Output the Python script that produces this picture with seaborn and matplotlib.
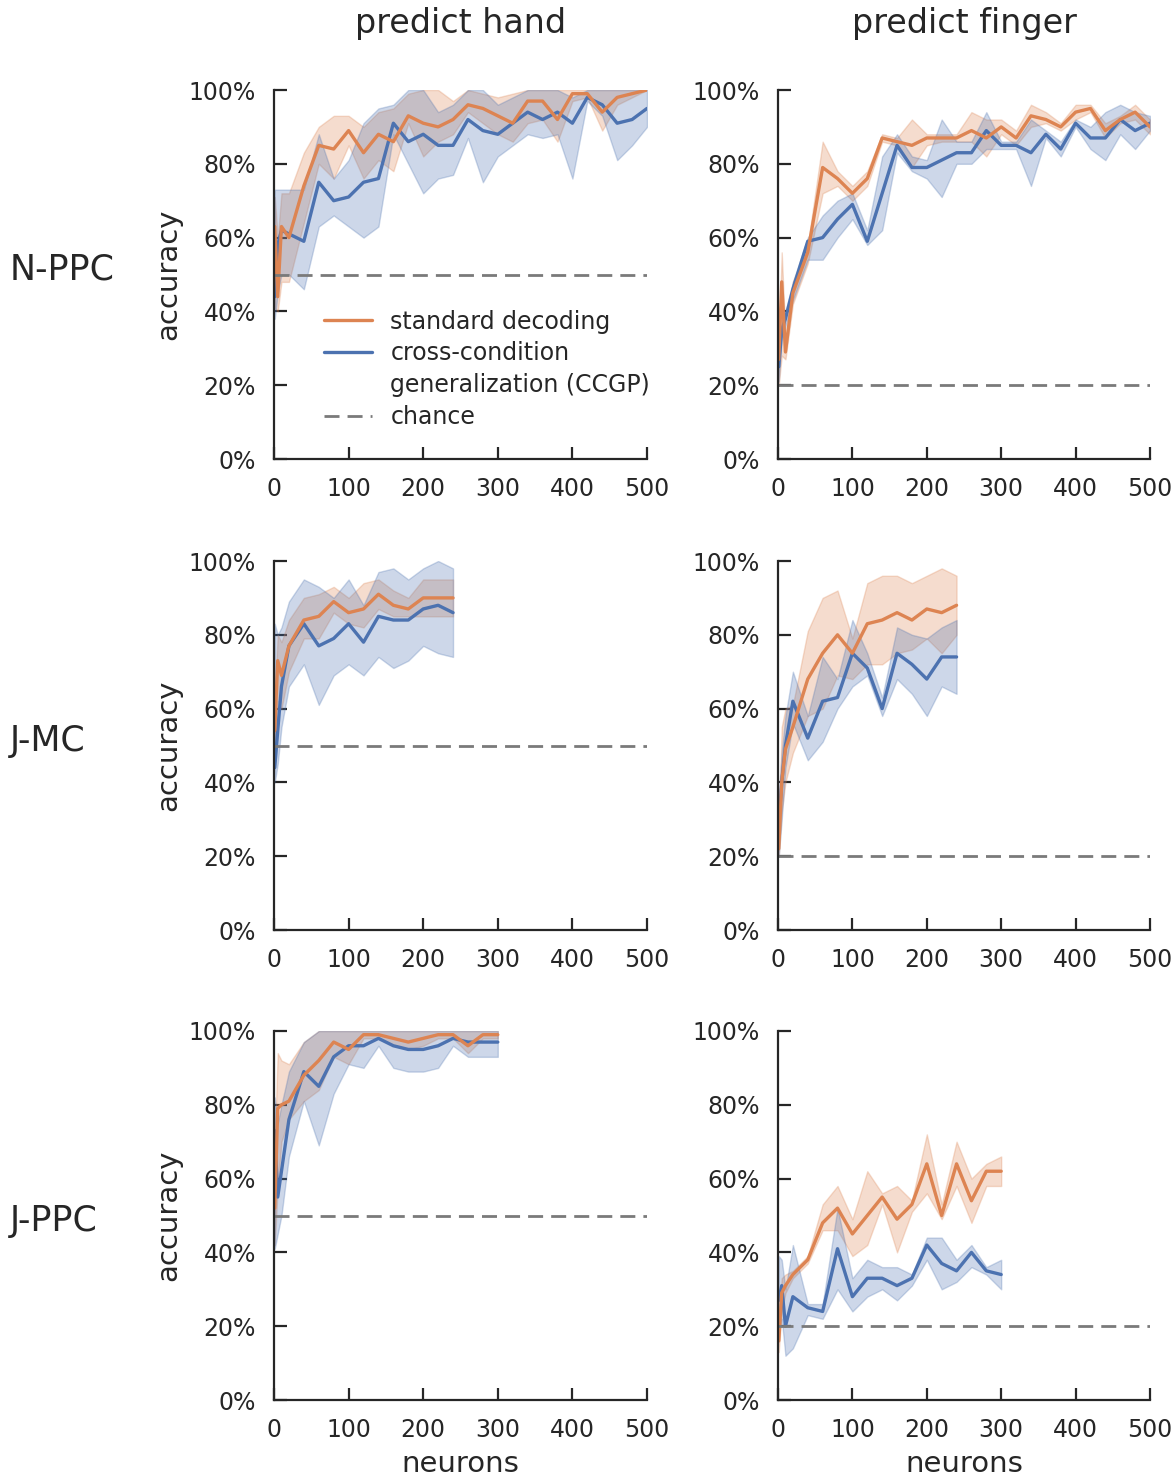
import numpy as np
import pandas as pd
import matplotlib
matplotlib.use("Agg")
import matplotlib.pyplot as plt
from matplotlib.lines import Line2D
from matplotlib.ticker import PercentFormatter
import seaborn as sns

# ---------------- data (accuracy in %) ----------------
N_NPPC = [1, 5, 10, 20, 40, 60, 80, 100, 120, 140, 160, 180, 200, 220, 240, 260, 280, 300,
          320, 340, 360, 380, 400, 420, 440, 460, 480, 500]
N_JMC = [1, 5, 10, 20, 40, 60, 80, 100, 120, 140, 160, 180, 200, 220, 240]
N_JPPC = [1, 5, 10, 20, 40, 60, 80, 100, 120, 140, 160, 180, 200, 220, 240, 260, 280, 300]

# N-PPC, predict hand
nppc_hand_std = [63, 44, 63, 60, 74, 85, 84, 89, 83, 88, 86, 93, 91, 90, 92, 96, 95, 93, 91, 97, 97, 92, 99, 99, 94, 98, 99, 100]
nppc_hand_std_lo = [41, 40, 48, 48, 64, 80, 76, 85, 76, 81, 78, 91, 82, 86, 88, 94, 91, 88, 86, 91, 92, 86, 97, 98, 89, 96, 98, 100]
nppc_hand_std_hi = [71, 60, 72, 72, 83, 90, 93, 93, 90, 94, 95, 99, 100, 100, 97, 100, 99, 98, 99, 100, 100, 100, 100, 100, 100, 100, 100, 100]
nppc_hand_ccgp = [44, 58, 62, 61, 59, 75, 70, 71, 75, 76, 91, 86, 88, 85, 85, 92, 89, 88, 91, 94, 92, 94, 91, 98, 96, 91, 92, 95]
nppc_hand_ccgp_lo = [38, 45, 50, 50, 46, 63, 66, 63, 60, 63, 88, 80, 72, 76, 77, 87, 75, 82, 85, 88, 87, 88, 76, 97, 93, 81, 85, 90]
nppc_hand_ccgp_hi = [73, 73, 73, 73, 73, 88, 76, 81, 91, 95, 96, 100, 100, 94, 96, 100, 100, 96, 98, 100, 100, 100, 98, 100, 100, 100, 100, 100]

# N-PPC, predict finger
nppc_finger_std = [27, 48, 29, 45, 56, 79, 76, 72, 76, 87, 86, 85, 87, 87, 87, 89, 87, 90, 87, 93, 92, 90, 94, 95, 89, 92, 94, 90]
nppc_finger_std_lo = [20, 28, 27, 42, 53, 72, 74, 70, 74, 86, 85, 79, 85, 86, 86, 86, 82, 88, 85, 90, 91, 89, 92, 94, 87, 91, 92, 88]
nppc_finger_std_hi = [30, 56, 33, 48, 58, 86, 78, 74, 78, 88, 87, 92, 88, 88, 88, 94, 92, 92, 89, 96, 94, 91, 96, 96, 91, 93, 96, 92]
nppc_finger_ccgp = [25, 35, 38, 46, 59, 60, 65, 69, 59, 72, 85, 79, 79, 81, 83, 83, 89, 85, 85, 83, 88, 84, 91, 87, 87, 92, 89, 91]
nppc_finger_ccgp_lo = [21, 33, 36, 43, 54, 54, 60, 65, 58, 62, 83, 78, 76, 71, 80, 80, 84, 84, 84, 74, 87, 82, 90, 84, 81, 88, 84, 89]
nppc_finger_ccgp_hi = [28, 38, 40, 48, 60, 66, 70, 72, 62, 82, 88, 82, 81, 92, 86, 86, 94, 86, 86, 92, 89, 86, 92, 90, 94, 96, 94, 93]

# J-MC, predict hand
jmc_hand_std = [54, 73, 69, 77, 84, 85, 89, 86, 87, 91, 88, 87, 90, 90, 90]
jmc_hand_std_lo = [45, 62, 60, 70, 79, 79, 86, 83, 82, 87, 85, 85, 85, 85, 85]
jmc_hand_std_hi = [62, 80, 78, 84, 90, 91, 93, 90, 94, 95, 92, 90, 95, 95, 95]
jmc_hand_ccgp = [44, 54, 66, 77, 83, 77, 79, 83, 78, 85, 84, 84, 87, 88, 86]
jmc_hand_ccgp_lo = [40, 45, 55, 66, 72, 61, 69, 72, 69, 74, 71, 73, 77, 75, 74]
jmc_hand_ccgp_hi = [83, 80, 82, 89, 95, 93, 90, 95, 88, 97, 98, 95, 98, 100, 98]

# J-MC, predict finger
jmc_finger_std = [22, 40, 49, 55, 68, 75, 80, 75, 83, 84, 86, 84, 87, 86, 88]
jmc_finger_std_lo = [20, 32, 40, 48, 58, 60, 69, 68, 72, 72, 75, 76, 79, 75, 80]
jmc_finger_std_hi = [30, 55, 60, 61, 81, 90, 92, 79, 94, 96, 96, 94, 96, 98, 96]
jmc_finger_ccgp = [28, 40, 50, 62, 52, 62, 63, 75, 71, 60, 75, 72, 68, 74, 74]
jmc_finger_ccgp_lo = [20, 30, 44, 56, 46, 51, 60, 66, 69, 58, 68, 64, 58, 66, 64]
jmc_finger_ccgp_hi = [36, 48, 58, 70, 58, 74, 68, 84, 75, 63, 82, 80, 79, 82, 84]

# J-PPC, predict hand
jppc_hand_std = [52, 79, 80, 81, 88, 92, 97, 95, 99, 99, 98, 97, 98, 99, 99, 96, 99, 99]
jppc_hand_std_lo = [42, 58, 70, 76, 81, 84, 93, 91, 98, 98, 96, 95, 96, 98, 98, 94, 98, 98]
jppc_hand_std_hi = [70, 94, 92, 91, 97, 100, 100, 100, 100, 100, 100, 100, 100, 100, 100, 100, 100, 100]
jppc_hand_ccgp = [73, 55, 62, 76, 89, 85, 93, 96, 96, 98, 96, 95, 95, 96, 98, 97, 97, 97]
jppc_hand_ccgp_lo = [41, 45, 50, 66, 81, 69, 83, 91, 90, 96, 90, 89, 89, 90, 96, 93, 93, 93]
jppc_hand_ccgp_hi = [82, 75, 80, 89, 97, 100, 100, 100, 100, 100, 100, 100, 100, 100, 100, 100, 100, 100]

# J-PPC, predict finger
jppc_finger_std = [16, 29, 31, 34, 38, 48, 52, 45, 50, 55, 49, 53, 64, 50, 64, 54, 62, 62]
jppc_finger_std_lo = [13, 24, 29, 33, 37, 46, 46, 39, 42, 53, 40, 51, 56, 49, 58, 48, 58, 58]
jppc_finger_std_hi = [22, 33, 34, 35, 39, 53, 58, 49, 62, 56, 58, 54, 72, 53, 70, 60, 64, 66]
jppc_finger_ccgp = [27, 31, 20, 28, 25, 24, 41, 28, 33, 33, 31, 33, 42, 37, 35, 40, 35, 34]
jppc_finger_ccgp_lo = [18, 22, 12, 14, 23, 22, 30, 24, 28, 30, 27, 31, 38, 30, 32, 36, 34, 30]
jppc_finger_ccgp_hi = [39, 38, 30, 42, 26, 26, 52, 33, 38, 36, 36, 34, 44, 44, 38, 42, 36, 38]

ROW_LABELS = ["N-PPC", "J-MC", "J-PPC"]
COL_TITLES = ["predict hand", "predict finger"]
CHANCE = [50, 20]
LEGEND_LABELS = ["standard decoding", "cross-condition", "generalization (CCGP)", "chance"]
X_TICKS = [0, 100, 200, 300, 400, 500]
Y_TICKS = [0, 20, 40, 60, 80, 100]

panels = [
    [(N_NPPC, nppc_hand_std, nppc_hand_std_lo, nppc_hand_std_hi,
      nppc_hand_ccgp, nppc_hand_ccgp_lo, nppc_hand_ccgp_hi),
     (N_NPPC, nppc_finger_std, nppc_finger_std_lo, nppc_finger_std_hi,
      nppc_finger_ccgp, nppc_finger_ccgp_lo, nppc_finger_ccgp_hi)],
    [(N_JMC, jmc_hand_std, jmc_hand_std_lo, jmc_hand_std_hi,
      jmc_hand_ccgp, jmc_hand_ccgp_lo, jmc_hand_ccgp_hi),
     (N_JMC, jmc_finger_std, jmc_finger_std_lo, jmc_finger_std_hi,
      jmc_finger_ccgp, jmc_finger_ccgp_lo, jmc_finger_ccgp_hi)],
    [(N_JPPC, jppc_hand_std, jppc_hand_std_lo, jppc_hand_std_hi,
      jppc_hand_ccgp, jppc_hand_ccgp_lo, jppc_hand_ccgp_hi),
     (N_JPPC, jppc_finger_std, jppc_finger_std_lo, jppc_finger_std_hi,
      jppc_finger_ccgp, jppc_finger_ccgp_lo, jppc_finger_ccgp_hi)],
]

# ---------------- style ----------------
sns.set_theme(style="ticks")
plt.rcParams["font.family"] = ["DejaVu Sans"]
ORANGE = "#DD8452"
BLUE = "#4C72B0"
GREY = "#7a7a7a"
TEXT = "#262626"

W, H = 1175, 1477
fig = plt.figure(figsize=(W / 100, H / 100), dpi=100)

col_x = [(274, 647), (778, 1150)]
row_y = [(90, 459), (561, 930), (1031, 1400)]
row_label_y = [270, 741, 1221]

axes = []
for r in range(3):
    for c in range(2):
        x0, x1 = col_x[c]
        y0, y1 = row_y[r]
        ax = fig.add_axes([x0 / W, 1 - y1 / H, (x1 - x0) / W, (y1 - y0) / H])
        N, s, slo, shi, g, glo, ghi = panels[r][c]
        df = pd.DataFrame({
            "neurons": N,
            "std": np.array(s) / 100, "std_lo": np.array(slo) / 100, "std_hi": np.array(shi) / 100,
            "ccgp": np.array(g) / 100, "ccgp_lo": np.array(glo) / 100, "ccgp_hi": np.array(ghi) / 100,
        })
        ax.fill_between(df["neurons"], df["std_lo"], df["std_hi"], color=ORANGE, alpha=0.28, lw=1)
        ax.fill_between(df["neurons"], df["ccgp_lo"], df["ccgp_hi"], color=BLUE, alpha=0.28, lw=1)
        sns.lineplot(data=df, x="neurons", y="ccgp", ax=ax, color=BLUE, lw=2.4, legend=False)
        sns.lineplot(data=df, x="neurons", y="std", ax=ax, color=ORANGE, lw=2.4, legend=False)
        ax.axhline(CHANCE[c] / 100, color=GREY, lw=2, dashes=(5.4, 2.9))

        ax.set_xlim(0, 500)
        ax.set_ylim(0, 1.0)
        ax.set_xticks(X_TICKS)
        ax.set_yticks([v / 100 for v in Y_TICKS])
        ax.yaxis.set_major_formatter(PercentFormatter(1.0, decimals=0))
        ax.tick_params(direction="in", length=9, width=1.6, pad=13,
                       labelsize=17, colors=TEXT)
        for side in ["top", "right"]:
            ax.spines[side].set_visible(False)
        for side in ["left", "bottom"]:
            ax.spines[side].set_linewidth(1.6)
            ax.spines[side].set_color(TEXT)
        ax.set_xlabel("neurons" if r == 2 else "", fontsize=21, color=TEXT, labelpad=6)
        ax.set_ylabel("accuracy" if c == 0 else "", fontsize=21, color=TEXT, labelpad=5)
        axes.append(ax)

# column titles
for c in range(2):
    x0, x1 = col_x[c]
    fig.text((x0 + x1) / 2 / W, 1 - 23 / H, COL_TITLES[c], ha="center", va="center",
             fontsize=24, color=TEXT)
# row labels
for r in range(3):
    fig.text(10 / W, 1 - row_label_y[r] / H, ROW_LABELS[r], ha="left", va="center",
             fontsize=25, color=TEXT)

# legend (second line of the CCGP label carries an empty handle)
handles = [Line2D([], [], color=ORANGE, lw=2.4),
           Line2D([], [], color=BLUE, lw=2.4),
           Line2D([], [], color="none", lw=0),
           Line2D([], [], color=GREY, lw=2, dashes=(5.4, 2.9))]
leg = axes[0].legend(handles, LEGEND_LABELS, loc="upper left", bbox_to_anchor=(0.135, 0.405),
                     frameon=False, fontsize=17, handlelength=2.0, handletextpad=0.8,
                     labelspacing=0.33, borderpad=0, borderaxespad=0)
for t in leg.get_texts():
    t.set_color(TEXT)

fig.savefig("out.png", dpi=100)
